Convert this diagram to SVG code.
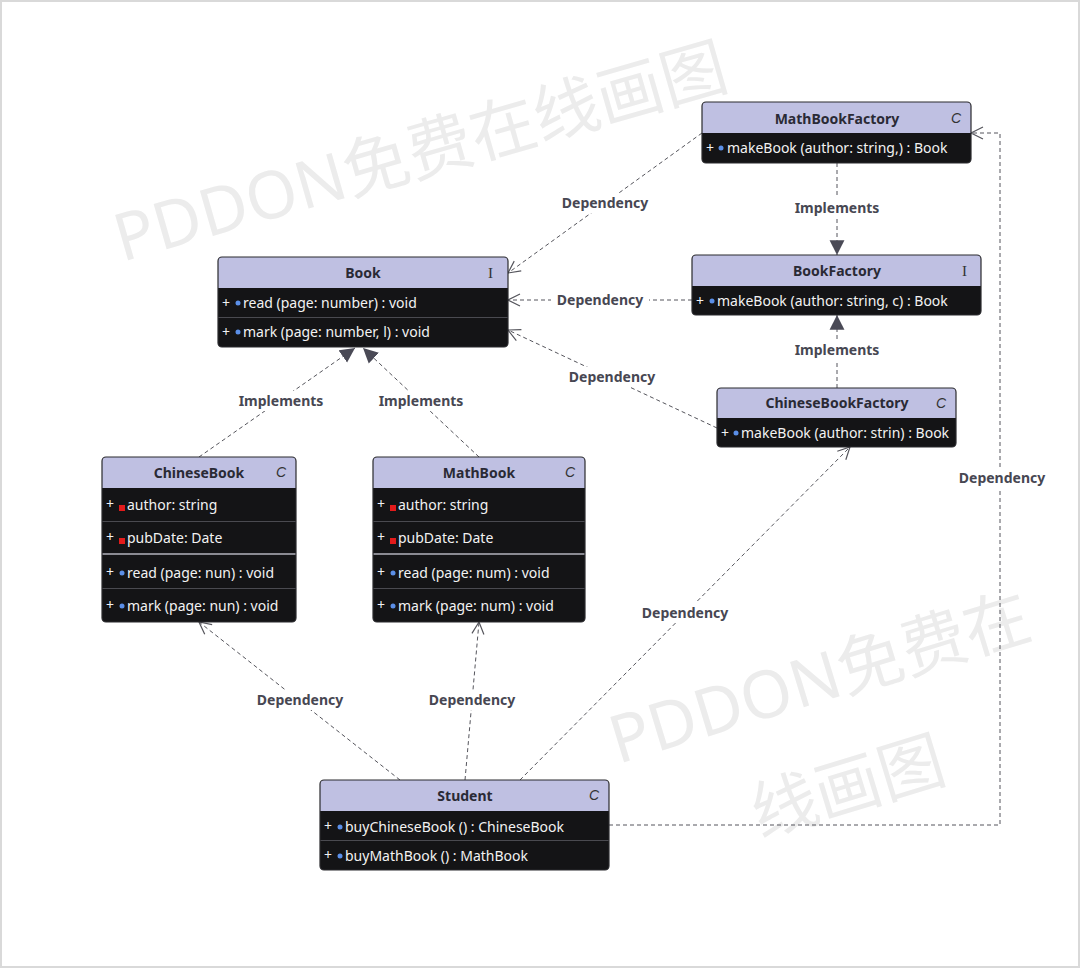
<svg xmlns="http://www.w3.org/2000/svg" width="1080" height="968" viewBox="0 0 1080 968">
<defs>
<style>
.frame{fill:#fff;stroke:#d9d9d9;stroke-width:2}
.wm{font-family:"Noto Sans","Noto Sans CJK SC",sans-serif;font-size:66px;fill:#ececec}
.hd{fill:#bfc0e2}
.bd{fill:#141416}
.box{fill:none;stroke:#2a2a2e;stroke-width:1.2}
.sep{stroke:#4a4a50;stroke-width:1}
.sep2{stroke:#8a8a92;stroke-width:2}
.title{font-family:"Noto Sans","Liberation Sans",sans-serif;font-size:14px;font-weight:bold;fill:#2a2a35;text-anchor:middle}
.kind{font-family:"Liberation Sans",sans-serif;font-size:14px;font-style:italic;fill:#333}
.kindi{font-family:"Liberation Serif",serif;font-size:15px;fill:#333}
.row{font-family:"Noto Sans","Liberation Sans",sans-serif;font-size:14px;fill:#f2f2f2}
.dot{fill:#5b8fe8}
.sq{fill:#e21b1b}
.con{fill:none;stroke:#55555c;stroke-width:1;stroke-dasharray:4 3}
.lbl{font-family:"Noto Sans","Liberation Sans",sans-serif;font-size:14px;font-weight:bold;fill:#474752;text-anchor:middle}
.lbg{fill:#fff}
</style>
<marker id="open" markerUnits="userSpaceOnUse" markerWidth="16" markerHeight="16" refX="12" refY="6" orient="auto" viewBox="-1 -1 16 14">
<path d="M0,0 L12,6 L0,12" fill="none" stroke="#55555c" stroke-width="1.2"/>
</marker>
<marker id="tri" markerUnits="userSpaceOnUse" markerWidth="16" markerHeight="16" refX="13" refY="6.5" orient="auto" viewBox="0 0 14 13">
<path d="M0,0 L13,6.5 L0,13 z" fill="#4a4a56"/>
</marker>
</defs>
<rect class="frame" x="1" y="1" width="1078" height="966"/>
<g id="watermarks">
<text class="wm" transform="translate(122,262) rotate(-16)">PDDON免费在线画图</text>
<text class="wm" transform="translate(618,764) rotate(-17)">PDDON免费在</text>
<text class="wm" transform="translate(760,838) rotate(-17)">线画图</text>
</g>
<g id="connectors">
<path class="con" d="M702,133 L508,273" marker-end="url(#open)"/>
<path class="con" d="M837,163 L837,255" marker-end="url(#tri)"/>
<path class="con" d="M692,300 L508,300" marker-end="url(#open)"/>
<path class="con" d="M837,388 L837,315" marker-end="url(#tri)"/>
<path class="con" d="M717,428 L508,330" marker-end="url(#open)"/>
<path class="con" d="M199,457 L355,348" marker-end="url(#tri)"/>
<path class="con" d="M479,457 L363,348" marker-end="url(#tri)"/>
<path class="con" d="M400,780 L199,622" marker-end="url(#open)"/>
<path class="con" d="M465,780 L479,622" marker-end="url(#open)"/>
<path class="con" d="M520,780 L850,447" marker-end="url(#open)"/>
<path class="con" d="M609,825 L1000,825 L1000,133 L971,133" marker-end="url(#open)"/>
<rect class="lbg" x="556" y="193" width="98" height="20"/><text class="lbl" x="605" y="208">Dependency</text>
<rect class="lbg" x="790" y="198" width="94" height="20"/><text class="lbl" x="837" y="213">Implements</text>
<rect class="lbg" x="551" y="290" width="98" height="20"/><text class="lbl" x="600" y="305">Dependency</text>
<rect class="lbg" x="790" y="340" width="94" height="20"/><text class="lbl" x="837" y="355">Implements</text>
<rect class="lbg" x="563" y="367" width="98" height="20"/><text class="lbl" x="612" y="382">Dependency</text>
<rect class="lbg" x="234" y="391" width="94" height="20"/><text class="lbl" x="281" y="406">Implements</text>
<rect class="lbg" x="374" y="391" width="94" height="20"/><text class="lbl" x="421" y="406">Implements</text>
<rect class="lbg" x="251" y="690" width="98" height="20"/><text class="lbl" x="300" y="705">Dependency</text>
<rect class="lbg" x="423" y="690" width="98" height="20"/><text class="lbl" x="472" y="705">Dependency</text>
<rect class="lbg" x="636" y="603" width="98" height="20"/><text class="lbl" x="685" y="618">Dependency</text>
<rect class="lbg" x="953" y="468" width="98" height="20"/><text class="lbl" x="1002" y="483">Dependency</text>
</g>
<g id="MathBookFactory">
<path class="hd" d="M706,102 H967 A4,4 0 0 1 971,106 V133 H702 V106 A4,4 0 0 1 706,102 Z"/>
<path class="bd" d="M702,133 H971 V159 A4,4 0 0 1 967,163 H706 A4,4 0 0 1 702,159 Z"/>
<rect class="box" x="702" y="102" width="269" height="61" rx="4"/>
<text class="title" x="837" y="124">MathBookFactory</text>
<text class="kind" x="951" y="123">C</text>
<text class="row" x="706" y="153">+</text><circle class="dot" cx="721" cy="148" r="2.5"/><text class="row" x="727" y="153">makeBook (author: string,) : Book</text>
</g>
<g id="Book">
<path class="hd" d="M222,257 H504 A4,4 0 0 1 508,261 V288 H218 V261 A4,4 0 0 1 222,257 Z"/>
<path class="bd" d="M218,288 H508 V343 A4,4 0 0 1 504,347 H222 A4,4 0 0 1 218,343 Z"/>
<line class="sep" x1="218" y1="317.5" x2="508" y2="317.5"/>
<rect class="box" x="218" y="257" width="290" height="90" rx="4"/>
<text class="title" x="363" y="278">Book</text>
<text class="kindi" x="488" y="278">I</text>
<text class="row" x="222" y="308">+</text><circle class="dot" cx="238" cy="303" r="2.5"/><text class="row" x="243" y="308">read (page: number) : void</text>
<text class="row" x="222" y="337">+</text><circle class="dot" cx="238" cy="332" r="2.5"/><text class="row" x="243" y="337">mark (page: number, l) : void</text>
</g>
<g id="BookFactory">
<path class="hd" d="M696,255 H977 A4,4 0 0 1 981,259 V286 H692 V259 A4,4 0 0 1 696,255 Z"/>
<path class="bd" d="M692,286 H981 V311 A4,4 0 0 1 977,315 H696 A4,4 0 0 1 692,311 Z"/>
<rect class="box" x="692" y="255" width="289" height="60" rx="4"/>
<text class="title" x="837" y="276">BookFactory</text>
<text class="kindi" x="962" y="276">I</text>
<text class="row" x="696" y="306">+</text><circle class="dot" cx="712" cy="301" r="2.5"/><text class="row" x="717" y="306">makeBook (author: string, c) : Book</text>
</g>
<g id="ChineseBookFactory">
<path class="hd" d="M721,388 H952 A4,4 0 0 1 956,392 V418 H717 V392 A4,4 0 0 1 721,388 Z"/>
<path class="bd" d="M717,418 H956 V443 A4,4 0 0 1 952,447 H721 A4,4 0 0 1 717,443 Z"/>
<rect class="box" x="717" y="388" width="239" height="59" rx="4"/>
<text class="title" x="837" y="408">ChineseBookFactory</text>
<text class="kind" x="936" y="408">C</text>
<text class="row" x="721" y="438">+</text><circle class="dot" cx="736" cy="433" r="2.5"/><text class="row" x="741" y="438">makeBook (author: strin) : Book</text>
</g>
<g id="ChineseBook">
<path class="hd" d="M106,457 H292 A4,4 0 0 1 296,461 V488 H102 V461 A4,4 0 0 1 106,457 Z"/>
<path class="bd" d="M102,488 H296 V618 A4,4 0 0 1 292,622 H106 A4,4 0 0 1 102,618 Z"/>
<line class="sep" x1="102" y1="521.5" x2="296" y2="521.5"/>
<line class="sep2" x1="102" y1="554" x2="296" y2="554"/>
<line class="sep" x1="102" y1="588.5" x2="296" y2="588.5"/>
<rect class="box" x="102" y="457" width="194" height="165" rx="4"/>
<text class="title" x="199" y="478">ChineseBook</text>
<text class="kind" x="276" y="477">C</text>
<text class="row" x="106" y="509">+</text><rect class="sq" x="119" y="505" width="6" height="6"/><text class="row" x="127" y="510">author: string</text>
<text class="row" x="106" y="542">+</text><rect class="sq" x="119" y="538" width="6" height="6"/><text class="row" x="127" y="543">pubDate: Date</text>
<text class="row" x="106" y="577">+</text><circle class="dot" cx="122" cy="573" r="2.5"/><text class="row" x="127" y="578">read (page: nun) : void</text>
<text class="row" x="106" y="610">+</text><circle class="dot" cx="122" cy="606" r="2.5"/><text class="row" x="127" y="611">mark (page: nun) : void</text>
</g>
<g id="MathBook">
<path class="hd" d="M377,457 H581 A4,4 0 0 1 585,461 V488 H373 V461 A4,4 0 0 1 377,457 Z"/>
<path class="bd" d="M373,488 H585 V618 A4,4 0 0 1 581,622 H377 A4,4 0 0 1 373,618 Z"/>
<line class="sep" x1="373" y1="521.5" x2="585" y2="521.5"/>
<line class="sep2" x1="373" y1="554" x2="585" y2="554"/>
<line class="sep" x1="373" y1="588.5" x2="585" y2="588.5"/>
<rect class="box" x="373" y="457" width="212" height="165" rx="4"/>
<text class="title" x="479" y="478">MathBook</text>
<text class="kind" x="565" y="477">C</text>
<text class="row" x="377" y="509">+</text><rect class="sq" x="390" y="505" width="6" height="6"/><text class="row" x="398" y="510">author: string</text>
<text class="row" x="377" y="542">+</text><rect class="sq" x="390" y="538" width="6" height="6"/><text class="row" x="398" y="543">pubDate: Date</text>
<text class="row" x="377" y="577">+</text><circle class="dot" cx="393" cy="573" r="2.5"/><text class="row" x="398" y="578">read (page: num) : void</text>
<text class="row" x="377" y="610">+</text><circle class="dot" cx="393" cy="606" r="2.5"/><text class="row" x="398" y="611">mark (page: num) : void</text>
</g>
<g id="Student">
<path class="hd" d="M324,780 H605 A4,4 0 0 1 609,784 V811 H320 V784 A4,4 0 0 1 324,780 Z"/>
<path class="bd" d="M320,811 H609 V866 A4,4 0 0 1 605,870 H324 A4,4 0 0 1 320,866 Z"/>
<line class="sep" x1="320" y1="840.5" x2="609" y2="840.5"/>
<rect class="box" x="320" y="780" width="289" height="90" rx="4"/>
<text class="title" x="465" y="801">Student</text>
<text class="kind" x="589" y="800">C</text>
<text class="row" x="324" y="831">+</text><circle class="dot" cx="340" cy="827" r="2.5"/><text class="row" x="345" y="832">buyChineseBook () : ChineseBook</text>
<text class="row" x="324" y="860">+</text><circle class="dot" cx="340" cy="856" r="2.5"/><text class="row" x="345" y="861">buyMathBook () : MathBook</text>
</g>
</svg>
